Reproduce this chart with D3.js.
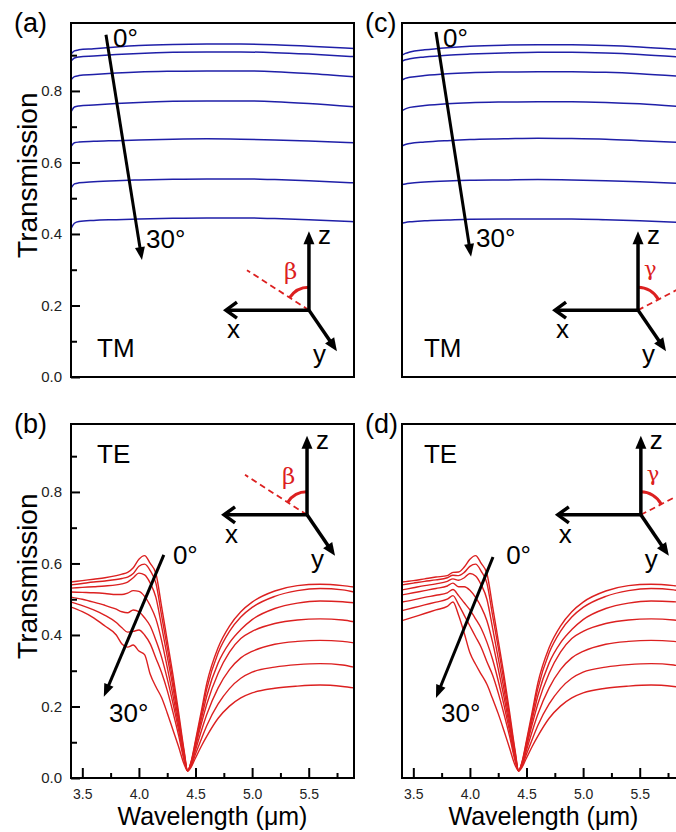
<!DOCTYPE html>
<html><head><meta charset="utf-8">
<script src="https://cdn.jsdelivr.net/npm/d3@7"></script>
<style>
body{margin:0;background:#fff;}
svg{display:block;font-family:"Liberation Sans",Arial,sans-serif;}
</style>
</head><body>
<svg id="chart" width="676" height="832"></svg>
<script>
// ---------------- DATA ----------------
const angles = ["0°","5°","10°","15°","20°","25°","30°"];
const wlTM = [3.40, 3.43, 3.47, 3.60, 3.80, 4.00, 4.30, 4.60, 4.90, 5.20, 5.50, 5.90];
const tmA = [
  [.903,.912,.915,.918,.923,.927,.930,.931,.931,.929,.925,.919],
  [.884,.892,.895,.898,.902,.905,.908,.909,.909,.907,.903,.896],
  [.831,.840,.843,.846,.850,.853,.855,.856,.856,.854,.849,.840],
  [.741,.755,.758,.761,.765,.768,.771,.772,.772,.770,.765,.756],
  [.644,.655,.657,.659,.661,.663,.665,.666,.665,.663,.660,.655],
  [.528,.540,.543,.546,.549,.551,.553,.554,.554,.552,.549,.543],
  [.414,.430,.435,.438,.440,.442,.444,.445,.445,.443,.440,.434]
];
const tmC = [
  [.900,.905,.909,.915,.921,.925,.928,.929,.929,.927,.923,.915],
  [.883,.887,.890,.895,.900,.903,.906,.908,.908,.906,.902,.894],
  [.830,.835,.838,.843,.848,.851,.853,.854,.854,.852,.848,.840],
  [.745,.750,.754,.759,.764,.767,.769,.770,.770,.768,.764,.755],
  [.646,.650,.653,.657,.661,.664,.666,.668,.667,.665,.661,.655],
  [.538,.540,.542,.545,.548,.550,.551,.552,.551,.549,.546,.541],
  [.430,.432,.434,.437,.439,.441,.442,.442,.442,.440,.437,.432]
];
const wlTE = [3.40,3.50,3.60,3.70,3.80,3.85,3.90,3.95,4.00,4.05,4.10,4.15,4.20,4.25,4.30,4.35,4.40,4.43,4.46,4.50,4.55,4.60,4.70,4.80,4.90,5.00,5.20,5.40,5.60,5.80,5.90];
const teB = [
  [.548,.552,.556,.560,.566,.570,.575,.588,.612,.622,.600,.572,.480,.385,.290,.185,.075,.020,.045,.105,.185,.265,.365,.425,.465,.492,.523,.538,.542,.538,.534],
  [.540,.544,.548,.551,.555,.558,.562,.572,.592,.598,.580,.545,.455,.365,.272,.172,.070,.020,.043,.100,.175,.250,.350,.410,.450,.477,.508,.524,.530,.526,.520],
  [.531,.533,.535,.537,.540,.543,.548,.560,.573,.568,.545,.505,.425,.340,.255,.160,.065,.020,.041,.093,.163,.230,.322,.378,.415,.443,.474,.489,.495,.493,.490],
  [.520,.519,.518,.516,.513,.513,.517,.524,.522,.508,.482,.445,.385,.310,.232,.148,.060,.020,.039,.088,.150,.207,.293,.352,.390,.410,.432,.442,.445,.442,.437],
  [.506,.500,.492,.483,.472,.465,.462,.470,.465,.448,.425,.385,.338,.278,.210,.135,.055,.020,.036,.078,.130,.178,.252,.303,.336,.354,.374,.382,.385,.382,.378],
  [.492,.482,.470,.455,.435,.420,.408,.410,.414,.400,.375,.335,.295,.245,.185,.120,.048,.020,.033,.067,.108,.147,.207,.250,.279,.296,.310,.317,.320,.316,.310],
  [.478,.465,.448,.425,.400,.375,.366,.372,.355,.345,.290,.255,.225,.182,.135,.088,.038,.020,.030,.056,.088,.117,.167,.201,.224,.238,.251,.257,.260,.256,.252]
];
const teD = [
  [.548,.552,.557,.562,.566,.575,.576,.590,.612,.622,.600,.572,.480,.385,.290,.185,.075,.020,.045,.105,.185,.265,.365,.425,.465,.492,.523,.538,.542,.538,.534],
  [.540,.545,.550,.554,.560,.567,.566,.575,.592,.598,.578,.545,.455,.365,.272,.172,.070,.020,.043,.100,.175,.250,.350,.410,.450,.477,.508,.524,.530,.526,.520],
  [.526,.532,.538,.543,.550,.557,.553,.560,.572,.565,.540,.500,.420,.335,.250,.158,.064,.020,.041,.093,.163,.230,.322,.378,.415,.443,.474,.489,.495,.493,.490],
  [.512,.518,.524,.530,.537,.545,.535,.535,.525,.505,.478,.440,.380,.305,.228,.145,.058,.020,.039,.088,.150,.207,.293,.352,.390,.410,.432,.442,.445,.442,.437],
  [.492,.498,.505,.511,.518,.527,.510,.490,.470,.445,.418,.380,.332,.272,.205,.132,.053,.020,.036,.078,.130,.178,.252,.303,.336,.354,.374,.382,.385,.382,.378],
  [.468,.476,.484,.492,.500,.510,.485,.455,.425,.395,.365,.325,.288,.238,.180,.117,.047,.020,.033,.067,.108,.147,.207,.250,.279,.296,.310,.317,.320,.316,.310],
  [.440,.450,.460,.470,.480,.492,.455,.405,.350,.318,.290,.262,.222,.180,.133,.084,.035,.020,.030,.056,.088,.117,.167,.201,.224,.238,.251,.257,.260,.256,.252]
];
const xTicks = [3.5, 4.0, 4.5, 5.0, 5.5];
const xTickLabels = ["3.5","4.0","4.5","5.0","5.5"];
const xMinorTicks = [3.75, 4.25, 4.75, 5.25, 5.75];
const yTicks = [0, 0.2, 0.4, 0.6, 0.8];
const yTickLabels = ["0.0","0.2","0.4","0.6","0.8"];
const yMinorTicks = [0.1, 0.3, 0.5, 0.7, 0.9];
const xDomain = [3.4, 5.9];
const yDomain = [0, 0.99];

// ---------------- LAYOUT ----------------
const svg = d3.select("#chart");
const PW = 283, PH = 354;
const BLUE = "#1f1fa8", RED = "#dc2020";

function arrow(g, x1, y1, x2, y2, sw, hl, hw, color) {
  const dx = x2 - x1, dy = y2 - y1, L = Math.hypot(dx, dy), ux = dx / L, uy = dy / L;
  const bx = x2 - ux * hl, by = y2 - uy * hl;
  g.append("line").attr("x1", x1).attr("y1", y1).attr("x2", bx + ux * 2).attr("y2", by + uy * 2)
    .attr("stroke", color).attr("stroke-width", sw);
  g.append("path")
    .attr("d", `M${x2},${y2}L${bx - uy * hw / 2},${by + ux * hw / 2}L${bx + uy * hw / 2},${by - ux * hw / 2}Z`)
    .attr("fill", color);
}

function coordIcon(g, ox, oy, kind) {
  const c = g.append("g").attr("transform", `translate(${ox},${oy})`);
  const dir = kind === "beta" ? [-62, -40] : [48, -25];
  const L = Math.hypot(dir[0], dir[1]);
  c.append("line").attr("x1", 0).attr("y1", 0).attr("x2", dir[0]).attr("y2", dir[1])
    .attr("stroke", RED).attr("stroke-width", 1.8).attr("stroke-dasharray", "6,4");
  const r = 23;
  const ex = dir[0] / L * r, ey = dir[1] / L * r;
  c.append("path").attr("d", `M0,${-r}A${r},${r} 0 0 ${kind === "beta" ? 0 : 1} ${ex},${ey}`)
    .attr("fill", "none").attr("stroke", RED).attr("stroke-width", 3);
  arrow(c, 0, 0, 0, -79, 3.5, 13, 11, "#000");
  arrow(c, 0, 0, 28, 41, 3.5, 13, 11, "#000");
  c.append("line").attr("x1", 0).attr("y1", 0).attr("x2", -82).attr("y2", 0)
    .attr("stroke", "#000").attr("stroke-width", 3.5);
  c.append("path").attr("d", "M-72,-8L-83,0L-72,8").attr("fill", "none")
    .attr("stroke", "#000").attr("stroke-width", 3.5);
  c.append("text").attr("x", 9).attr("y", -66).attr("font-size", 26).text("z");
  c.append("text").attr("x", -82).attr("y", 28).attr("font-size", 26).text("x");
  c.append("text").attr("x", 4).attr("y", 53).attr("font-size", 26).text("y");
  if (kind === "beta") {
    c.append("text").attr("x", -25).attr("y", -31).attr("font-size", 23).attr("fill", RED)
      .attr("font-family", "DejaVu Serif").text("β");
  } else {
    c.append("text").attr("x", 6).attr("y", -34).attr("font-size", 21).attr("fill", RED)
      .attr("font-family", "DejaVu Serif").text("γ");
  }
}

function panel(p) {
  const x = d3.scaleLinear().domain(xDomain).range([p.left, p.left + PW]);
  const y = d3.scaleLinear().domain(yDomain).range([p.top + PH, p.top]);
  const g = svg.append("g");
  const clipId = "clip" + p.id;
  svg.append("clipPath").attr("id", clipId).append("rect")
    .attr("x", p.left).attr("y", p.top).attr("width", PW).attr("height", PH);

  const line = d3.line().x((d, i) => x(p.wl[i])).y(d => y(d)).curve(d3.curveMonotoneX);
  g.append("g").attr("clip-path", `url(#${clipId})`).selectAll("path").data(p.series).join("path")
    .attr("d", line).attr("fill", "none").attr("stroke", p.color).attr("stroke-width", p.sw);

  if (p.yAxis) {
    const ya = g.append("g").attr("transform", `translate(${p.left},0)`)
      .call(d3.axisLeft(y).tickValues(yTicks).tickFormat((d, i) => yTickLabels[i]).tickSize(-9).tickPadding(9));
    ya.select(".domain").remove();
    ya.selectAll("line").attr("stroke-width", 2);
    ya.selectAll("text").attr("font-size", 15).attr("font-family", "Liberation Sans, Arial, sans-serif").attr("fill", "#222");
    const ym = g.append("g").attr("transform", `translate(${p.left},0)`)
      .call(d3.axisLeft(y).tickValues(yMinorTicks).tickFormat("").tickSize(-6));
    ym.select(".domain").remove();
    ym.selectAll("text").remove();
    ym.selectAll("line").attr("stroke-width", 2);
  }
  if (p.xAxis) {
    const xa = g.append("g").attr("transform", `translate(0,${p.top + PH})`)
      .call(d3.axisBottom(x).tickValues(xTicks).tickFormat((d, i) => xTickLabels[i]).tickSize(-10).tickPadding(11));
    xa.select(".domain").remove();
    xa.selectAll("line").attr("stroke-width", 2);
    xa.selectAll("text").attr("font-size", 14).attr("font-family", "Liberation Sans, Arial, sans-serif").attr("fill", "#222");
    const xm = g.append("g").attr("transform", `translate(0,${p.top + PH})`)
      .call(d3.axisBottom(x).tickValues(xMinorTicks).tickFormat("").tickSize(-5));
    xm.select(".domain").remove();
    xm.selectAll("text").remove();
    xm.selectAll("line").attr("stroke-width", 2);
    g.append("text").attr("x", (x.range()[0] + x.range()[1]) / 2).attr("y", p.top + PH + 47)
      .attr("text-anchor", "middle").attr("font-size", 25).text("Wavelength (μm)");
  }
  g.append("rect").attr("x", p.left).attr("y", p.top).attr("width", PW).attr("height", PH)
    .attr("fill", "none").attr("stroke", "#000").attr("stroke-width", 2);

  g.append("text").attr("x", p.yAxis ? 14 : p.left - 37).attr("y", p.top + 9)
    .attr("font-size", 27).text(p.label);

  if (p.yAxis) {
    g.append("text").attr("transform", `translate(${37},${p.top + PH * 0.43}) rotate(-90)`)
      .attr("text-anchor", "middle").attr("font-size", 28).text("Transmission");
  }

  const a = p.ann;
  arrow(g, x(a.arrow[0]), y(a.arrow[1]), x(a.arrow[2]), y(a.arrow[3]), 3, 13, 10, "#000");
  g.append("text").attr("x", x(a.t0[0])).attr("y", y(a.t0[1])).attr("font-size", 26).text(angles[0]);
  g.append("text").attr("x", x(a.t30[0])).attr("y", y(a.t30[1])).attr("font-size", 26).text(angles[6]);
  g.append("text").attr("x", x(a.pol[0])).attr("y", y(a.pol[1])).attr("font-size", 26).text(a.polText);
  coordIcon(g, x(a.origin[0]), y(a.origin[1]), a.kind);
}

panel({ id: "a", left: 71, top: 23, wl: wlTM, series: tmA, color: BLUE, sw: 1.5, yAxis: true, xAxis: false, label: "(a)",
  ann: { arrow: [3.709, 0.957, 4.027, 0.327], t0: [3.771, 0.923], t30: [4.063, 0.361], pol: [3.63, 0.056], polText: "TM",
         origin: [5.502, 0.187], kind: "beta" } });
panel({ id: "c", left: 402, top: 23, wl: wlTM, series: tmC, color: BLUE, sw: 1.5, yAxis: false, xAxis: false, label: "(c)",
  ann: { arrow: [3.70, 0.965, 4.01, 0.336], t0: [3.762, 0.923], t30: [4.054, 0.364], pol: [3.594, 0.056], polText: "TM",
         origin: [5.485, 0.187], kind: "gamma" } });
panel({ id: "b", left: 71, top: 424, wl: wlTE, series: teB, color: RED, sw: 1.4, yAxis: true, xAxis: true, label: "(b)",
  ann: { arrow: [4.22, 0.624, 3.69, 0.227], t0: [4.30, 0.599], t30: [3.736, 0.157], pol: [3.63, 0.881], polText: "TE",
         origin: [5.485, 0.736], kind: "beta" } });
panel({ id: "d", left: 402, top: 424, wl: wlTE, series: teD, color: RED, sw: 1.4, yAxis: false, xAxis: true, label: "(d)",
  ann: { arrow: [4.204, 0.618, 3.70, 0.224], t0: [4.32, 0.599], t30: [3.745, 0.157], pol: [3.594, 0.881], polText: "TE",
         origin: [5.51, 0.736], kind: "gamma" } });
</script>
</body></html>
